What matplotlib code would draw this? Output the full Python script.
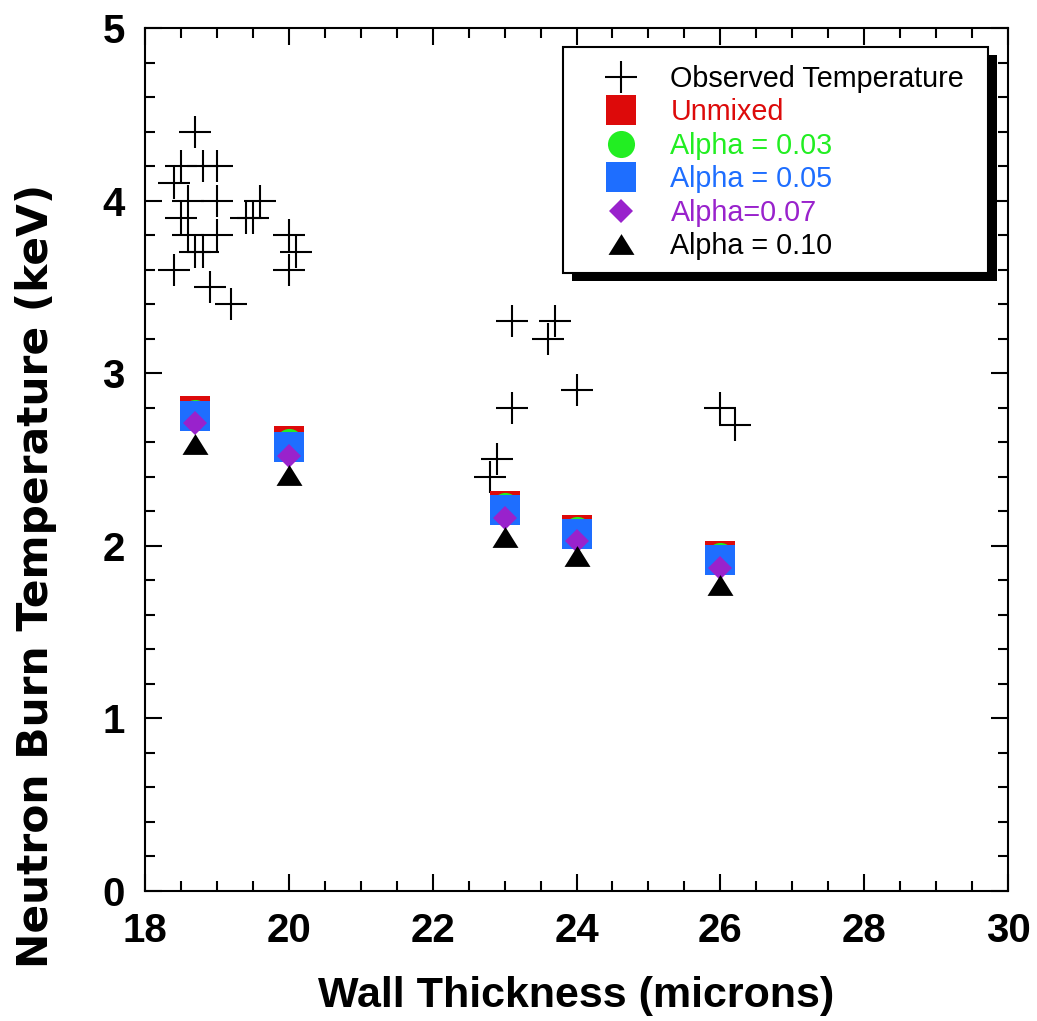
import matplotlib.pyplot as plt
from matplotlib.patches import Rectangle
from matplotlib.ticker import MultipleLocator

plt.rcParams['font.family'] = ['Liberation Sans', 'DejaVu Sans']

# observed neutron burn temperatures
obs_thickness = [18.7, 18.5, 18.8, 19.0, 18.4, 18.6, 19.0, 19.6, 18.5, 19.4,
                 19.5, 18.6, 19.0, 20.0, 18.7, 18.8, 20.1, 18.4, 20.0, 18.9,
                 19.2, 23.1, 23.7, 23.6, 24.0, 23.1, 22.9, 22.8, 26.0, 26.2]
obs_temp = [4.4, 4.2, 4.2, 4.2, 4.1, 4.0, 4.0, 4.0, 3.9, 3.9,
            3.9, 3.8, 3.8, 3.8, 3.7, 3.7, 3.7, 3.6, 3.6, 3.5,
            3.4, 3.3, 3.3, 3.2, 2.9, 2.8, 2.5, 2.4, 2.8, 2.7]

# model predictions
model_thickness = [18.7, 20.0, 23.0, 24.0, 26.0]
unmixed = [2.78, 2.61, 2.23, 2.09, 1.94]
alpha_03 = [2.77, 2.60, 2.23, 2.09, 1.94]
alpha_05 = [2.75, 2.57, 2.21, 2.07, 1.92]
alpha_07 = [2.71, 2.52, 2.16, 2.03, 1.87]
alpha_10 = [2.59, 2.41, 2.05, 1.94, 1.77]

xticks = [18, 20, 22, 24, 26, 28, 30]
yticks = [0, 1, 2, 3, 4, 5]

red = '#dd0a0a'
green = '#22ee22'
blue = '#1e6eff'
purple = '#9922cc'

W, H = 1037, 1021
fig = plt.figure(figsize=(W / 100, H / 100), dpi=100)
ax = fig.add_axes([145 / W, 1 - 891 / H, (1008 - 145) / W, (891 - 28) / H])

tri = [(-1, -0.8), (1, -0.8), (0, 0.8)]
ax.plot(obs_thickness, obs_temp, ls='none', marker='+', ms=23, mew=1.5,
        color='black', label='Observed Temperature')
ax.plot(model_thickness, unmixed, ls='none', marker='s', ms=21, mew=0,
        color=red, label='Unmixed')
ax.plot(model_thickness, alpha_03, ls='none', marker='o', ms=19.5, mew=0,
        color=green, label='Alpha = 0.03')
ax.plot(model_thickness, alpha_05, ls='none', marker='s', ms=21, mew=0,
        color=blue, label='Alpha = 0.05')
ax.plot(model_thickness, alpha_07, ls='none', marker='D', ms=12.5, mew=0,
        color=purple, label='Alpha=0.07')
ax.plot(model_thickness, alpha_10, ls='none', marker=tri, ms=18.7, mew=0,
        color='black', label='Alpha = 0.10')

ax.set_xlim(18, 30)
ax.set_ylim(0, 5)
ax.set_xticks(xticks)
ax.set_xticklabels([str(t) for t in xticks], fontweight='bold')
ax.set_yticks(yticks)
ax.set_yticklabels([str(t) for t in yticks], fontweight='bold')
ax.xaxis.set_minor_locator(MultipleLocator(0.5))
ax.yaxis.set_minor_locator(MultipleLocator(0.2))
ax.tick_params(which='both', direction='in', top=True, right=True,
               width=1.5, labelsize=29)
ax.tick_params(axis='x', pad=15)
ax.tick_params(axis='y', pad=14.5)
ax.tick_params(which='major', length=12.5)
ax.tick_params(which='minor', length=7.5)
for s in ax.spines.values():
    s.set_linewidth(1.5)

fig.text(576 / W, 1 - 996 / H, 'Wall Thickness (microns)', fontsize=31,
         fontweight='bold', ha='center', va='center')
fig.text(36 / W, 1 - 576 / H, 'Neutron Burn Temperature (keV)', fontsize=30.5,
         fontweight='bold', family='DejaVu Sans', rotation=90,
         ha='center', va='center')

# legend box with a hard drop shadow
shadow = Rectangle(((563 + 9) / W, 1 - (273 + 8) / H), (988 - 563) / W,
                   (273 - 47) / H, transform=fig.transFigure,
                   fc='black', ec='none', zorder=2)
frame = Rectangle((563 / W, 1 - 273 / H), (988 - 563) / W, (273 - 47) / H,
                  transform=fig.transFigure, fc='white', ec='black',
                  lw=1.5, zorder=3)
fig.add_artist(shadow)
fig.add_artist(frame)

handles, labels = ax.get_legend_handles_labels()
fig.legend(handles, labels, loc='upper left',
           bbox_to_anchor=(594 / W, 1 - 65 / H), bbox_transform=fig.transFigure,
           frameon=False, borderpad=0, borderaxespad=0, handlelength=1.9,
           handletextpad=0.76, labelspacing=0.19, fontsize=20.7, numpoints=1,
           labelcolor=['black', red, green, blue, purple, 'black'])

fig.savefig('out.png', dpi=100)
